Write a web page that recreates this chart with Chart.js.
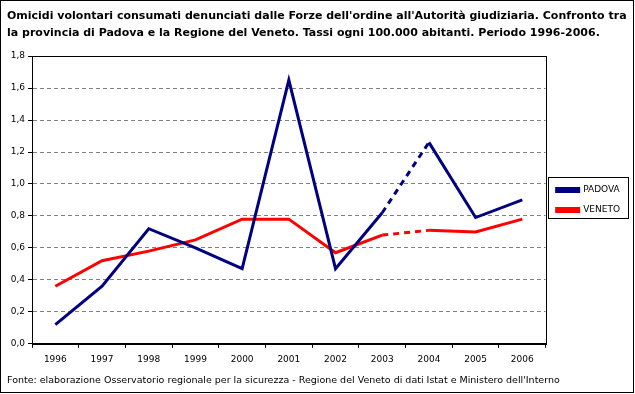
<!DOCTYPE html>
<html>
<head>
<meta charset="utf-8">
<script src="https://cdn.jsdelivr.net/npm/chart.js@4"></script>
<style>
  body { margin: 0; background: #fff; }
  canvas { display: block; }
</style>
</head>
<body>
<canvas id="grafico" width="635" height="394"></canvas>
<script>
// dati
const anni = ["1996", "1997", "1998", "1999", "2000", "2001", "2002", "2003", "2004", "2005", "2006"];
const padova = [0.12, 0.36, 0.72, 0.6, 0.47, 1.65, 0.47, 0.82, 1.26, 0.79, 0.9];
const veneto = [0.36, 0.52, 0.58, 0.65, 0.78, 0.78, 0.57, 0.68, 0.71, 0.7, 0.78];
const titolo = [
  "Omicidi volontari consumati denunciati dalle Forze dell'ordine all'Autorità giudiziaria. Confronto tra",
  "la provincia di Padova e la Regione del Veneto. Tassi ogni 100.000 abitanti. Periodo 1996-2006."
];
const fonte = "Fonte: elaborazione Osservatorio regionale per la sicurezza - Regione del Veneto di dati Istat e Ministero dell'Interno";

const font = "'DejaVu Sans', sans-serif";

// tratto 2003-2004 tratteggiato
const tratteggio = (ctx) => (ctx.p0DataIndex === 7 ? [6, 5] : undefined);

// cornice area grafico, bordo legenda e bordo esterno
const cornici = {
  id: "cornici",
  afterLayout(chart) {
    // legenda un po' più in basso, come nell'originale
    chart.legend.top += 7;
    chart.legend.bottom += 7;
  },
  beforeDatasetsDraw(chart) {
    const { ctx, chartArea: a } = chart;
    ctx.save();
    ctx.strokeStyle = "#000";
    ctx.lineWidth = 1;
    ctx.strokeRect(Math.round(a.left) + 0.5, Math.round(a.top) + 0.5,
      Math.round(a.right - a.left), Math.round(a.bottom - a.top));
    ctx.restore();
  },
  afterDraw(chart) {
    const { ctx } = chart;
    const boxes = chart.legend.legendHitBoxes;
    const l = Math.min(...boxes.map((b) => b.left)) - 9;
    const r = Math.max(...boxes.map((b) => b.left + b.width)) + 8;
    const t = Math.min(...boxes.map((b) => b.top)) - 9;
    const btm = Math.max(...boxes.map((b) => b.top + b.height)) + 3;
    ctx.save();
    ctx.strokeStyle = "#000";
    ctx.lineWidth = 1;
    ctx.strokeRect(Math.round(l) + 0.5, Math.round(t) + 0.5, Math.round(r - l), Math.round(btm - t));
    ctx.strokeRect(0.5, 0.5, 633, 392);
    ctx.restore();
  }
};

new Chart(document.getElementById("grafico"), {
  type: "line",
  data: {
    labels: anni,
    datasets: [
      {
        label: "PADOVA",
        data: padova,
        borderColor: "#000080",
        backgroundColor: "#000080",
        borderWidth: 3,
        pointRadius: 0,
        tension: 0,
        segment: { borderDash: tratteggio }
      },
      {
        label: "VENETO",
        data: veneto,
        borderColor: "#ff0000",
        backgroundColor: "#ff0000",
        borderWidth: 3,
        pointRadius: 0,
        tension: 0,
        segment: { borderDash: tratteggio }
      }
    ]
  },
  options: {
    responsive: false,
    animation: false,
    layout: { padding: { left: 7, right: 5, top: 0, bottom: 8 } },
    plugins: {
      title: {
        display: true,
        text: titolo,
        align: "start",
        color: "#000",
        font: { family: font, size: 11, weight: "bold", lineHeight: 1.55 },
        padding: { top: 8, bottom: 14 }
      },
      subtitle: {
        display: true,
        position: "bottom",
        text: fonte,
        align: "start",
        color: "#000",
        font: { family: font, size: 9.5, lineHeight: 1.2 },
        padding: { top: 4, bottom: 0 }
      },
      legend: {
        position: "right",
        labels: {
          color: "#000",
          font: { family: font, size: 9 },
          boxWidth: 22,
          boxHeight: 3,
          padding: 11
        }
      },
      tooltip: { enabled: false }
    },
    scales: {
      x: {
        offset: true,
        grid: { drawOnChartArea: false, drawTicks: true, tickLength: 4, color: "#000", offset: true },
        border: { color: "#000" },
        ticks: { color: "#000", font: { family: font, size: 9 }, maxRotation: 0, padding: 6 }
      },
      y: {
        min: 0,
        max: 1.8,
        afterFit(s) { s.width = 25; },
        grid: { color: "#808080", tickLength: 4, tickColor: "#000" },
        border: { color: "#000", dash: [4, 3] },
        ticks: {
          stepSize: 0.2,
          color: "#000",
          font: { family: font, size: 9 },
          padding: 3,
          callback: (v) => v.toFixed(1).replace(".", ",")
        }
      }
    }
  },
  plugins: [cornici]
});
</script>
</body>
</html>
